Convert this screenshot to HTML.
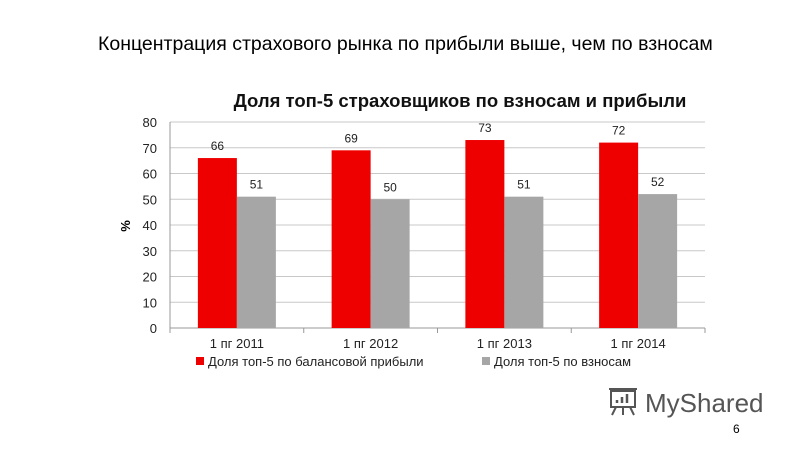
<!DOCTYPE html>
<html><head><meta charset="utf-8"><style>
body{margin:0;width:800px;height:450px;background:#fff;overflow:hidden;font-family:"Liberation Sans",sans-serif;position:relative}
.t{position:absolute;white-space:nowrap}
</style></head><body>
<div class="t" style="left:98px;top:33px;font-size:19.5px;color:#000">Концентрация страхового рынка по прибыли выше, чем по взносам</div>
<svg width="800" height="450" style="position:absolute;left:0;top:0">
<text x="460" y="107" text-anchor="middle" font-size="18.5" font-weight="bold" fill="#111" font-family="Liberation Sans,sans-serif">Доля топ-5 страховщиков по взносам и прибыли</text>
<g id="grid"></g><g id="bars"></g>
<text transform="translate(130,226) rotate(-90)" text-anchor="middle" font-size="13" font-weight="bold" fill="#000" font-family="Liberation Sans,sans-serif">%</text>
<rect x="196" y="357" width="8" height="8" fill="#ee0000"/>
<text x="208" y="366" font-size="13" fill="#222" font-family="Liberation Sans,sans-serif">Доля топ-5 по балансовой прибыли</text>
<rect x="482" y="357" width="8" height="8" fill="#a6a6a6"/>
<text x="494" y="366" font-size="13" fill="#222" font-family="Liberation Sans,sans-serif">Доля топ-5 по взносам</text>
<g fill="none" stroke="#555" stroke-width="2">
<rect x="611" y="391" width="24" height="16"/><path d="M609 389h28M616 407l-4 8M623 407v8M630 407l4 8"/>
<path d="M617 403v-3M622 403v-6M627 403v-9" stroke-width="2.5"/>
</g>
<text x="645" y="412" font-size="26" fill="#555" font-family="Liberation Sans,sans-serif">MyShared</text>
<text x="733" y="433" font-size="12" fill="#000" font-family="Liberation Sans,sans-serif">6</text>
</svg>
<script>
const categories=["1 пг 2011","1 пг 2012","1 пг 2013","1 пг 2014"];
const profitShare=[66,69,73,72];
const premiumShare=[51,50,51,52];
const yTicks=[0,10,20,30,40,50,60,70,80];
const NS="http://www.w3.org/2000/svg";
const x0=170,x1=705,y0=328,y1=122,ymax=80;
const y=v=>y0-(v/ymax)*(y0-y1);
const cw=(x1-x0)/categories.length;
function el(tag,a,p,txt){const e=document.createElementNS(NS,tag);for(const k in a)e.setAttribute(k,a[k]);if(txt!==undefined)e.textContent=txt;p.appendChild(e);return e;}
const g=document.getElementById('grid'),b=document.getElementById('bars');
yTicks.forEach(t=>{
 const l=el('line',{x1:x0,x2:x1,y1:y(t),y2:y(t),stroke:t===0?'#999':'#c8c8c8','stroke-width':1},g);
 
 
 const tx=el('text',{x:157,y:y(t)+5,'text-anchor':'end','font-size':13,fill:'#222','font-family':'Liberation Sans,sans-serif'},g,t);
 
 
});
el('line',{x1:x0,x2:x0,y1:y1,y2:y0,stroke:'#999'},g);
for(let i=0;i<=categories.length;i++)el('line',{x1:x0+i*cw,x2:x0+i*cw,y1:y0,y2:y0+5,stroke:'#999'},g);
const bw=39;
categories.forEach((c,i)=>{
 const cx=x0+i*cw+cw/2;
 const r=el('rect',{x:cx-bw,y:y(profitShare[i]),width:bw,height:y0-y(profitShare[i]),fill:'#ee0000'},b);
 
 
 const gr=el('rect',{x:cx,y:y(premiumShare[i]),width:bw,height:y0-y(premiumShare[i]),fill:'#a6a6a6'},b);
 
 
 const l1=el('text',{x:cx-bw/2,y:y(profitShare[i])-8,'text-anchor':'middle','font-size':12,fill:'#222','font-family':'Liberation Sans,sans-serif'},b,profitShare[i]);
 
 
 const l2=el('text',{x:cx+bw/2,y:y(premiumShare[i])-8,'text-anchor':'middle','font-size':12,fill:'#222','font-family':'Liberation Sans,sans-serif'},b,premiumShare[i]);
 
 
 const ct=el('text',{x:cx,y:348,'text-anchor':'middle','font-size':13,fill:'#222','font-family':'Liberation Sans,sans-serif'},b,c);
 
 
});
</script>
</body></html>
